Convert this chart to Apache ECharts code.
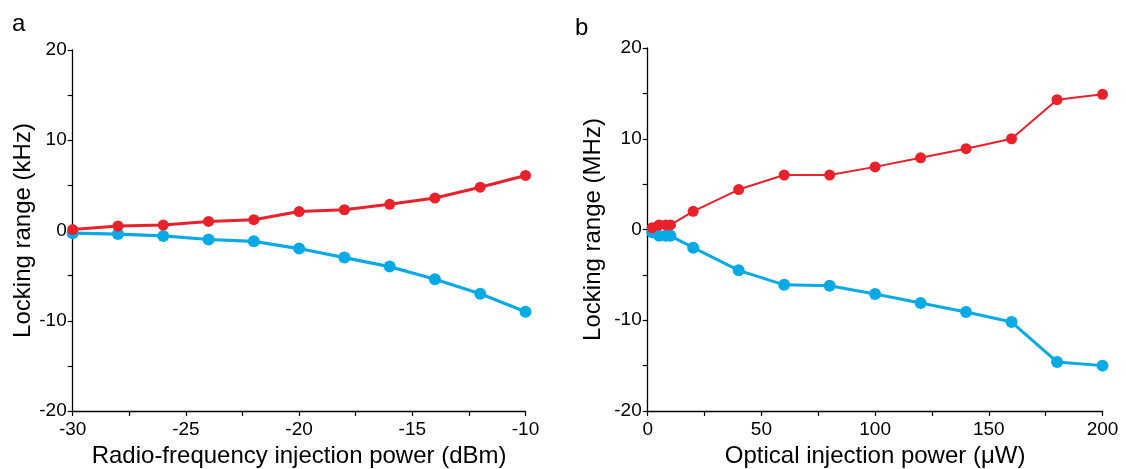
<!DOCTYPE html>
<html>
<head>
<meta charset="utf-8">
<script src="https://cdn.jsdelivr.net/npm/echarts@6/dist/echarts.min.js"></script>
<style>
  html, body { margin: 0; padding: 0; background: #ffffff; }
  #chart { width: 1126px; height: 469px; }
</style>
</head>
<body>
<div id="chart"></div>
<script>
// Panel a: locking range vs radio-frequency injection power
const rfPower = [-30, -28, -26, -24, -22, -20, -18, -16, -14, -12, -10];
const rfUpper = [0.1, 0.5, 0.6, 1.0, 1.2, 2.1, 2.3, 2.9, 3.6, 4.8, 6.1];
const rfLower = [-0.3, -0.4, -0.6, -1.0, -1.2, -2.0, -3.0, -4.0, -5.4, -7.0, -9.0];

// Panel b: locking range vs optical injection power
const optPower = [2, 5, 8, 10, 20, 40, 60, 80, 100, 120, 140, 160, 180, 200];
const optUpper = [0.2, 0.5, 0.5, 0.5, 2.0, 4.4, 6.0, 6.0, 6.9, 7.9, 8.9, 10.0, 14.3, 14.9];
const optLower = [-0.3, -0.7, -0.7, -0.7, -2.0, -4.5, -6.1, -6.2, -7.1, -8.1, -9.1, -10.2, -14.6, -15.0];

const panelLabels = ['a', 'b'];
const xNames = ['Radio-frequency injection power (dBm)', 'Optical injection power (\u03bcW)'];
const yNames = ['Locking range (kHz)', 'Locking range (MHz)'];

const RED = '#e8212b';
const BLUE = '#08aae6';
const FONT = '"Liberation Sans", Arial, sans-serif';

const pairs = (xs, ys) => xs.map((x, i) => [x, ys[i]]);

const axisCommon = {
  type: 'value',
  axisLine: { show: true, onZero: false, lineStyle: { color: '#000', width: 1.3 } },
  axisTick: { show: true, inside: false, length: 5, lineStyle: { color: '#000', width: 1.2 } },
  minorTick: { show: true, splitNumber: 2, length: 5, lineStyle: { color: '#000', width: 1.2 } },
  splitLine: { show: false },
  nameLocation: 'middle',
  nameTextStyle: { color: '#000', fontSize: 24, fontFamily: FONT }
};

const xLabel = { color: '#000', fontSize: 19, fontFamily: FONT, margin: 9 };
const yLabel = { color: '#000', fontSize: 19, fontFamily: FONT, margin: 6 };

function lineSeries(idx, data, color, lw, size) {
  return {
    type: 'line',
    xAxisIndex: idx,
    yAxisIndex: idx,
    data: data,
    symbol: 'circle',
    symbolSize: size,
    clip: false,
    lineStyle: { color: color, width: lw },
    itemStyle: { color: color }
  };
}

const chart = echarts.init(document.getElementById('chart'), null, { renderer: 'canvas' });
chart.setOption({
  animation: false,
  backgroundColor: '#ffffff',
  grid: [
    { left: 72.7, top: 50, width: 452.8, height: 361, containLabel: false, outerBoundsMode: 'none' },
    { left: 647.7, top: 48, width: 454.8, height: 363, containLabel: false, outerBoundsMode: 'none' }
  ],
  xAxis: [
    Object.assign({}, axisCommon, {
      gridIndex: 0, min: -30, max: -10, interval: 5,
      axisLabel: xLabel, name: xNames[0], nameGap: 32
    }),
    Object.assign({}, axisCommon, {
      gridIndex: 1, min: 0, max: 200, interval: 50,
      axisLabel: xLabel, name: xNames[1], nameGap: 32
    })
  ],
  yAxis: [
    Object.assign({}, axisCommon, {
      gridIndex: 0, min: -20, max: 20, interval: 10,
      axisLabel: yLabel, name: yNames[0], nameGap: 31
    }),
    Object.assign({}, axisCommon, {
      gridIndex: 1, min: -20, max: 20, interval: 10,
      axisLabel: yLabel, name: yNames[1], nameGap: 42
    })
  ],
  series: [
    lineSeries(0, pairs(rfPower, rfLower), BLUE, 3.2, 12),
    lineSeries(0, pairs(rfPower, rfUpper), RED, 3, 11),
    lineSeries(1, pairs(optPower, optLower), BLUE, 3, 12),
    lineSeries(1, pairs(optPower, optUpper), RED, 2, 11)
  ],
  graphic: [
    { type: 'text', left: 12, top: 12, style: { text: panelLabels[0], fontSize: 24, fontFamily: FONT, fill: '#000' } },
    { type: 'text', left: 575, top: 16, style: { text: panelLabels[1], fontSize: 24, fontFamily: FONT, fill: '#000' } }
  ]
});
</script>
</body>
</html>
